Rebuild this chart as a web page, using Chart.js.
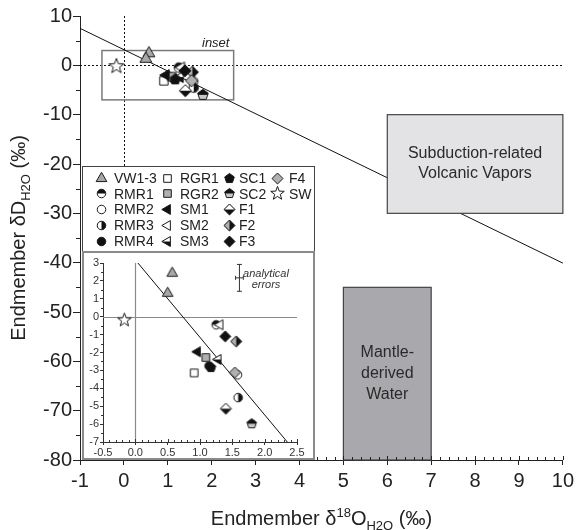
<!DOCTYPE html>
<html>
<head>
<meta charset="utf-8">
<script src="https://cdn.jsdelivr.net/npm/chart.js@4.4.0/dist/chart.umd.min.js"></script>
<style>
  html, body { margin: 0; padding: 0; background: #fff; }
  #wrap { position: relative; width: 578px; height: 530px; }
  #mainChart { position: absolute; left: 0; top: 0; }
  #insetChart { position: absolute; left: 82px; top: 251px; }
</style>
</head>
<body>
<div id="wrap">
  <canvas id="mainChart" width="578" height="530"></canvas>
  <canvas id="insetChart" width="233" height="209"></canvas>
</div>
<script>
// endmember compositions (d18O, dD in permil)
const sampleNames = ["VW1-3", "RMR1", "RMR2", "RMR3", "RMR4", "RGR1", "RGR2", "SM1", "SM2", "SM3",
                     "SC1", "SC2", "F1", "F2", "F3", "F4", "SW"];
const d18O = [[0.57, 0.50], [1.25], [1.58], [1.59], [1.14], [0.91], [1.09], [0.96], [1.31], [1.28],
              [1.17], [1.80], [1.40], [1.56], [1.39], [1.54], [-0.17]];
const dD = [[2.43, 1.31], [-0.45], [-3.25], [-4.52], [-2.75], [-3.14], [-2.28], [-1.96], [-0.45], [-2.39],
            [-2.84], [-5.98], [-5.14], [-1.38], [-1.10], [-3.12], [-0.19]];

// mixing trend
const trendX = [-1, 10];
const trendY = [7.5, -40.1];
const insetTrendX = [0.04, 2.35];
const insetTrendY = [3, -7];

// reference fields
const subductionX = [6, 10];
const subductionY = [-30, -10];
const mantleX = [5, 7];
const mantleY = [-80, -45];

// inset window and analytical error
const insetX = [-0.5, 2.5];
const insetY = [-7, 3];
const errX = [1.61];
const errY = [2.17];
const errDx = [0.06];
const errDy = [0.75];

Chart.defaults.font.family = "'Liberation Sans', Arial, sans-serif";
Chart.defaults.color = "#222";

const markerStyles = [
  { shape: "triUp", fill: "#a8a8a8" },
  { shape: "circle", half: "top", a: "#111", b: "#fff" },
  { shape: "circle", fill: "#fff" },
  { shape: "circle", half: "left", a: "#fff", b: "#111" },
  { shape: "circle", fill: "#111" },
  { shape: "square", fill: "#fff" },
  { shape: "square", fill: "#b0b0b0" },
  { shape: "triLeft", fill: "#111" },
  { shape: "triLeft", fill: "#fff" },
  { shape: "triLeft", half: "top", a: "#fff", b: "#111" },
  { shape: "pentagon", fill: "#111" },
  { shape: "pentagon", half: "top", a: "#111", b: "#c8c8c8" },
  { shape: "diamond", half: "top", a: "#fff", b: "#111" },
  { shape: "diamond", half: "left", a: "#b0b0b0", b: "#111" },
  { shape: "diamond", fill: "#111" },
  { shape: "diamond", fill: "#b0b0b0" },
  { shape: "star", fill: "#fff" }
];

function shapePath(ctx, shape, c, s) {
  ctx.beginPath();
  if (shape === "circle") {
    ctx.arc(c, c, 4.5 * s, 0, Math.PI * 2);
  } else if (shape === "square") {
    ctx.rect(c - 4 * s, c - 4 * s, 8 * s, 8 * s);
  } else if (shape === "triUp") {
    const r = 6.5 * s;
    ctx.moveTo(c, c - r);
    ctx.lineTo(c + r * 0.866, c + r * 0.5);
    ctx.lineTo(c - r * 0.866, c + r * 0.5);
    ctx.closePath();
  } else if (shape === "triLeft") {
    const r = 6 * s;
    ctx.moveTo(c - r, c);
    ctx.lineTo(c + r * 0.5, c - r * 0.866);
    ctx.lineTo(c + r * 0.5, c + r * 0.866);
    ctx.closePath();
  } else if (shape === "diamond") {
    const r = 5.8 * s;
    ctx.moveTo(c, c - r);
    ctx.lineTo(c + r, c);
    ctx.lineTo(c, c + r);
    ctx.lineTo(c - r, c);
    ctx.closePath();
  } else if (shape === "pentagon") {
    const r = 5.3 * s;
    for (let k = 0; k < 5; k++) {
      const a = -Math.PI / 2 + k * 2 * Math.PI / 5;
      ctx.lineTo(c + r * Math.cos(a), c + r * Math.sin(a));
    }
    ctx.closePath();
  } else if (shape === "star") {
    const ro = 7.5 * s, ri = 3.1 * s;
    for (let k = 0; k < 10; k++) {
      const a = -Math.PI / 2 + k * Math.PI / 5;
      const r = k % 2 ? ri : ro;
      ctx.lineTo(c + r * Math.cos(a), c + r * Math.sin(a));
    }
    ctx.closePath();
  }
}

function makeMarker(st, s) {
  const size = Math.ceil(17 * s) + 2;
  const cv = document.createElement("canvas");
  cv.width = size;
  cv.height = size;
  const ctx = cv.getContext("2d");
  const c = size / 2;
  ctx.lineWidth = 1;
  ctx.strokeStyle = "#1a1a1a";
  shapePath(ctx, st.shape, c, s);
  ctx.fillStyle = st.half ? st.b : st.fill;
  ctx.fill();
  if (st.half) {
    ctx.save();
    ctx.beginPath();
    if (st.half === "top") ctx.rect(0, 0, size, c);
    else ctx.rect(0, 0, c, size);
    ctx.clip();
    shapePath(ctx, st.shape, c, s);
    ctx.fillStyle = st.a;
    ctx.fill();
    ctx.restore();
    shapePath(ctx, st.shape, c, s);
  }
  ctx.stroke();
  return cv;
}

const mainMarkers = markerStyles.map(st => makeMarker(st, 1.05));
const insetMarkers = markerStyles.map(st => makeMarker(st, 0.95));
const legendMarkers = markerStyles.map(st => makeMarker(st, 0.95));

function sampleDatasets(markers) {
  return sampleNames.map((name, i) => ({
    type: "scatter",
    label: name,
    data: d18O[i].map((x, j) => ({ x: x, y: dD[i][j] })),
    pointStyle: markers[i],
    pointRadius: 6,
    order: -i
  }));
}

function lineDataset(xs, ys) {
  return {
    type: "line",
    data: xs.map((x, i) => ({ x: x, y: ys[i] })),
    borderColor: "#111",
    borderWidth: 1,
    pointRadius: 0,
    fill: false,
    order: 50
  };
}

// text with sub/superscripts
function drawRich(ctx, parts, x, y) {
  let total = 0;
  parts.forEach(p => {
    ctx.font = p.size + "px 'Liberation Sans', Arial, sans-serif";
    p.w = ctx.measureText(p.t).width;
    total += p.w;
  });
  let cx = x - total / 2;
  ctx.textAlign = "left";
  ctx.textBaseline = "alphabetic";
  parts.forEach(p => {
    ctx.font = p.size + "px 'Liberation Sans', Arial, sans-serif";
    ctx.fillText(p.t, cx, y + (p.dy || 0));
    cx += p.w;
  });
}

function minorTicks(ctx, scale, step, major, len, isX) {
  const area = scale.chart.chartArea;
  ctx.beginPath();
  for (let v = scale.min; v <= scale.max + 1e-9; v += step) {
    const p = Math.round(scale.getPixelForValue(v)) + 0.5;
    const isMajor = Math.abs(v / major - Math.round(v / major)) < 1e-6;
    if (isX) {
      ctx.moveTo(p, area.bottom);
      ctx.lineTo(p, area.bottom - (isMajor ? len + 1 : len));
    } else {
      ctx.moveTo(area.left, p);
      ctx.lineTo(area.left - (isMajor ? 0 : len), p);
    }
  }
  ctx.stroke();
}

const mainDecor = {
  id: "mainDecor",
  beforeDatasetsDraw(chart) {
    const { ctx, chartArea: a, scales: { x, y } } = chart;
    ctx.save();
    ctx.strokeStyle = "#111";
    ctx.lineWidth = 1;
    ctx.setLineDash([2, 2]);
    const y0 = Math.round(y.getPixelForValue(0)) + 0.5;
    const x0 = Math.round(x.getPixelForValue(0)) + 0.5;
    ctx.beginPath();
    ctx.moveTo(a.left, y0); ctx.lineTo(a.right, y0);
    ctx.moveTo(x0, a.top); ctx.lineTo(x0, a.bottom);
    ctx.stroke();
    ctx.setLineDash([]);
    // inset window
    ctx.strokeStyle = "#7a7a7a";
    ctx.lineWidth = 1.5;
    const ix1 = x.getPixelForValue(insetX[0]), ix2 = x.getPixelForValue(insetX[1]);
    const iy1 = y.getPixelForValue(insetY[1]), iy2 = y.getPixelForValue(insetY[0]);
    ctx.strokeRect(ix1, iy1, ix2 - ix1, iy2 - iy1);
    ctx.fillStyle = "#222";
    ctx.font = "italic 13px 'Liberation Sans', Arial, sans-serif";
    ctx.textAlign = "left";
    ctx.textBaseline = "alphabetic";
    ctx.fillText("inset", 202, 47);
    ctx.restore();
  },
  afterDatasetsDraw(chart) {
    const { ctx, scales: { x, y } } = chart;
    ctx.save();
    const box = (xs, ys, fill, lines, lh) => {
      const l = x.getPixelForValue(xs[0]), r = x.getPixelForValue(xs[1]);
      const t = y.getPixelForValue(ys[1]), b = y.getPixelForValue(ys[0]);
      ctx.fillStyle = fill;
      ctx.fillRect(l, t, r - l, b - t);
      ctx.strokeStyle = "#444";
      ctx.lineWidth = 1.2;
      ctx.strokeRect(l, t, r - l, b - t);
      ctx.fillStyle = "#2a2a2a";
      ctx.font = "16px 'Liberation Sans', Arial, sans-serif";
      ctx.textAlign = "center";
      ctx.textBaseline = "middle";
      const cy = (t + b) / 2 - (lines.length - 1) * lh / 2;
      lines.forEach((s, k) => ctx.fillText(s, (l + r) / 2, cy + k * lh));
    };
    box(subductionX, subductionY, "#e3e3e5", ["Subduction-related", "Volcanic Vapors"], 20);
    box(mantleX, mantleY, "#a9a9ad", ["Mantle-", "derived", "Water"], 21);
    ctx.restore();
  },
  afterDraw(chart) {
    const { ctx, chartArea: a, scales: { x, y } } = chart;
    ctx.save();
    ctx.strokeStyle = "#222";
    ctx.lineWidth = 1;
    minorTicks(ctx, x, 0.2, 1, 3, true);
    minorTicks(ctx, y, 5, 10, 4, false);

    // legend
    ctx.fillStyle = "#fff";
    ctx.fillRect(82, 166, 233, 86);
    ctx.strokeStyle = "#444";
    ctx.strokeRect(82.5, 166.5, 232, 85);
    const colMarker = [101, 167, 229, 277];
    const colText = [114, 180, 239, 289];
    ctx.font = "14px 'Liberation Sans', Arial, sans-serif";
    ctx.textAlign = "left";
    ctx.textBaseline = "middle";
    ctx.fillStyle = "#222";
    sampleNames.forEach((name, i) => {
      const col = Math.floor(i / 5), row = i % 5;
      const ly = 178 + row * 15.8;
      const m = legendMarkers[i];
      ctx.drawImage(m, Math.round(colMarker[col] - m.width / 2), Math.round(ly - m.height / 2));
      ctx.fillText(name, colText[col], ly + 1);
    });

    // axis titles
    ctx.fillStyle = "#222";
    drawRich(ctx, [
      { t: "Endmember \u03B4", size: 20 },
      { t: "18", size: 13, dy: -8 },
      { t: "O", size: 20 },
      { t: "H2O", size: 13, dy: 5 },
      { t: " (\u2030)", size: 20 }
    ], (a.left + a.right) / 2, 525);
    ctx.translate(25, (a.top + a.bottom) / 2);
    ctx.rotate(-Math.PI / 2);
    drawRich(ctx, [
      { t: "Endmember \u03B4D", size: 20 },
      { t: "H2O", size: 13, dy: 5 },
      { t: " (\u2030)", size: 20 }
    ], 0, 0);
    ctx.restore();
  }
};

new Chart(document.getElementById("mainChart"), {
  type: "scatter",
  data: {
    datasets: [...sampleDatasets(mainMarkers), lineDataset(trendX, trendY)]
  },
  options: {
    responsive: false,
    animation: false,
    events: [],
    layout: { padding: { top: 16, right: 11, left: 0, bottom: 0 } },
    plugins: { legend: { display: false }, tooltip: { enabled: false } },
    scales: {
      x: {
        type: "linear",
        min: -1,
        max: 10,
        afterFit: s => { s.height = 70; },
        ticks: { stepSize: 1, font: { size: 20 }, color: "#222", padding: 4, maxRotation: 0 },
        grid: { drawOnChartArea: false, drawTicks: true, tickLength: 5, color: "#222" },
        border: { display: true, color: "#222", width: 1 }
      },
      y: {
        type: "linear",
        min: -80,
        max: 10,
        afterFit: s => { s.width = 80; },
        ticks: { stepSize: 10, font: { size: 20 }, color: "#222", padding: 1 },
        grid: { drawOnChartArea: false, drawTicks: true, tickLength: 7, color: "#222" },
        border: { display: true, color: "#222", width: 1 }
      }
    }
  },
  plugins: [mainDecor]
});

const insetDecor = {
  id: "insetDecor",
  beforeDraw(chart) {
    const { ctx, width, height } = chart;
    ctx.save();
    ctx.fillStyle = "#fff";
    ctx.fillRect(0, 0, width, height);
    ctx.restore();
  },
  beforeDatasetsDraw(chart) {
    const { ctx, chartArea: a, scales: { x, y } } = chart;
    ctx.save();
    ctx.strokeStyle = "#8a8a8a";
    ctx.lineWidth = 1.2;
    const y0 = Math.round(y.getPixelForValue(0)) + 0.5;
    const x0 = Math.round(x.getPixelForValue(0)) + 0.5;
    ctx.beginPath();
    ctx.moveTo(a.left, y0); ctx.lineTo(a.right, y0);
    ctx.moveTo(x0, a.top); ctx.lineTo(x0, a.bottom);
    ctx.stroke();
    ctx.restore();
  },
  afterDraw(chart) {
    const { ctx, width, height, scales: { x, y } } = chart;
    ctx.save();
    ctx.strokeStyle = "#333";
    ctx.lineWidth = 1;
    minorTicks(ctx, x, 0.1, 0.5, 2, true);
    minorTicks(ctx, y, 0.5, 1, 2, false);

    // analytical error bar
    errX.forEach((ex, i) => {
      const px = x.getPixelForValue(ex), py = y.getPixelForValue(errY[i]);
      const t = y.getPixelForValue(errY[i] + errDy[i]), b = y.getPixelForValue(errY[i] - errDy[i]);
      const l = x.getPixelForValue(ex - errDx[i]), r = x.getPixelForValue(ex + errDx[i]);
      ctx.beginPath();
      ctx.moveTo(px, t); ctx.lineTo(px, b);
      ctx.moveTo(px - 2.5, t); ctx.lineTo(px + 2.5, t);
      ctx.moveTo(px - 2.5, b); ctx.lineTo(px + 2.5, b);
      ctx.moveTo(l, py); ctx.lineTo(r, py);
      ctx.moveTo(l, py - 2); ctx.lineTo(l, py + 2);
      ctx.moveTo(r, py - 2); ctx.lineTo(r, py + 2);
      ctx.stroke();
    });
    ctx.fillStyle = "#333";
    ctx.font = "italic 11px 'Liberation Sans', Arial, sans-serif";
    ctx.textAlign = "center";
    ctx.textBaseline = "middle";
    ctx.fillText("analytical", 184, 23);
    ctx.fillText("errors", 184, 34);

    // panel frame
    ctx.strokeStyle = "#8a8a8a";
    ctx.lineWidth = 2;
    ctx.strokeRect(1, 1, width - 2, height - 2);
    ctx.restore();
  }
};

new Chart(document.getElementById("insetChart"), {
  type: "scatter",
  data: {
    datasets: [...sampleDatasets(insetMarkers), lineDataset(insetTrendX, insetTrendY)]
  },
  options: {
    responsive: false,
    animation: false,
    events: [],
    layout: { padding: { top: 12, right: 18, left: 0, bottom: 0 } },
    plugins: { legend: { display: false }, tooltip: { enabled: false } },
    scales: {
      x: {
        type: "linear",
        min: insetX[0],
        max: insetX[1],
        afterFit: s => { s.height = 18; },
        ticks: { stepSize: 0.5, font: { size: 11 }, color: "#333", padding: 1, maxRotation: 0,
                 callback: v => v.toFixed(1) },
        grid: { drawOnChartArea: false, drawTicks: true, tickLength: 3, color: "#333" },
        border: { display: true, color: "#333", width: 1 }
      },
      y: {
        type: "linear",
        min: insetY[0],
        max: insetY[1],
        afterFit: s => { s.width = 21; },
        ticks: { stepSize: 1, font: { size: 11 }, color: "#333", padding: 1 },
        grid: { drawOnChartArea: false, drawTicks: true, tickLength: 3, color: "#333" },
        border: { display: true, color: "#333", width: 1 }
      }
    }
  },
  plugins: [insetDecor]
});
</script>
</body>
</html>
